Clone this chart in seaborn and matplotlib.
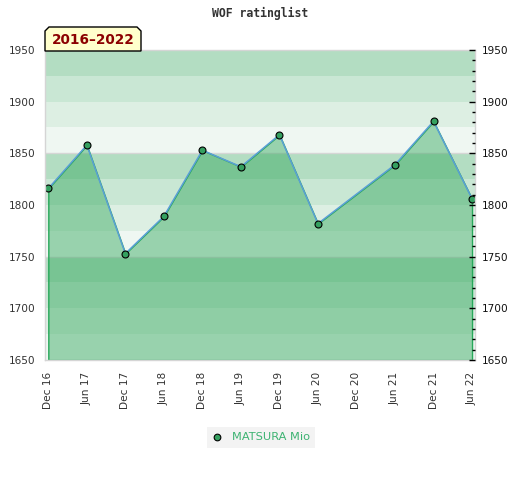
import matplotlib
matplotlib.use('Agg')
import matplotlib.pyplot as plt
import seaborn as sns
from matplotlib.lines import Line2D
from matplotlib.patches import Polygon
from matplotlib.ticker import MultipleLocator

# Dados
periodos = ['Dec 16', 'Jun 17', 'Dec 17', 'Jun 18', 'Dec 18', 'Jun 19',
            'Dec 19', 'Jun 20', 'Dec 20', 'Jun 21', 'Dec 21', 'Jun 22']
idx_pontos = [0, 1, 2, 3, 4, 5, 6, 7, 9, 10, 11]
ratings = [1816, 1858, 1753, 1789, 1853, 1837, 1868, 1782, 1839, 1881, 1806]
jogador = 'MATSURA Mio'
rotulo_periodo = '2016–2022'
titulo = 'WOF ratinglist'

y_min, y_max = 1650, 1950
faixa_cores = ['#b3ddc2', '#c9e7d4', '#ddefe3', '#eff7f2']

sns.set_style('white')
plt.rcParams['font.family'] = ['DejaVu Sans']

fig = plt.figure(figsize=(5.2, 4.8), dpi=100)
ax = fig.add_axes([45 / 520, 1 - 360 / 480, 430 / 520, 310 / 480])

# Faixas de fundo a cada 25 pontos
for i, topo in enumerate(range(y_max, y_min, -25)):
    ax.axhspan(topo - 25, topo, color=faixa_cores[i % 4], lw=0, zorder=0)
for nivel in range(y_min + 100, y_max, 100):
    ax.axhline(nivel, color='#d6d6d6', lw=1, zorder=0.5)

# Area e linha
ax.fill_between(idx_pontos, ratings, y_min, facecolor=(0.216, 0.663, 0.376, 0.47),
                edgecolor='#27a85a', lw=1, zorder=1)
sns.lineplot(x=idx_pontos, y=ratings, ax=ax, color='#5b9fd6', lw=1.1, marker='o',
             markersize=5, markerfacecolor='#35a060', markeredgecolor='black',
             markeredgewidth=0.8, zorder=3)

ax.set_xlim(-0.086, 11.077)
ax.set_ylim(y_min, y_max)
ax.set_xticks(range(len(periodos)))
ax.set_xticklabels(periodos, rotation=90, fontsize=7.6, color='#333333')
ax.set_yticks(range(y_min, y_max + 1, 50))
ax.tick_params(axis='x', length=0, pad=8.5)
ax.tick_params(axis='y', length=0, pad=7, labelsize=7.6, labelcolor='#333333')
ax.set_xlabel('')
ax.set_ylabel('')
for sp in ax.spines.values():
    sp.set_color('#d5d5d5')
    sp.set_linewidth(1)
    sp.set_zorder(4)

# Eixo direito
ax2 = ax.twinx()
ax2.set_ylim(y_min, y_max)
ax2.yaxis.set_major_locator(MultipleLocator(50))
ax2.yaxis.set_minor_locator(MultipleLocator(10))
ax2.tick_params(axis='y', which='major', direction='in', length=4, width=1,
                color='black', pad=5, labelsize=7.6, labelcolor='#111111')
ax2.tick_params(axis='y', which='minor', direction='in', length=2.2, width=1, color='black')
for sp in ax2.spines.values():
    sp.set_visible(False)

# Titulo
fig.text(0.5, 1 - 13 / 480, titulo, ha='center', va='center', fontsize=8.3,
         family='DejaVu Sans Mono', weight='bold', color='#333333')

# Caixa do periodo
x0, x1 = 45 / 520, 141 / 520
yb, yt = 1 - 51 / 480, 1 - 27 / 480
cx, cy = 4 / 520, 4 / 480
caixa = Polygon([(x0, yb), (x0, yt - cy), (x0 + cx, yt), (x1 - cx, yt),
                 (x1, yt - cy), (x1, yb)], closed=True, transform=fig.transFigure,
                facecolor='#ffffcc', edgecolor='black', lw=1, zorder=5)
fig.patches.append(caixa)
fig.text((x0 + x1) / 2, 1 - 39.5 / 480, rotulo_periodo, ha='center', va='center',
         fontsize=9.8, weight='bold', color='#8b0000', zorder=6)

# Legenda
marcador = Line2D([], [], marker='o', ls='', markersize=4.8, markerfacecolor='#35a060',
                  markeredgecolor='black', markeredgewidth=0.8)
fig.legend(handles=[marcador], labels=[jogador], loc='center',
           bbox_to_anchor=(261 / 520, 1 - 437.5 / 480), frameon=True,
           facecolor='#f0f0f0', edgecolor='none', fancybox=False, fontsize=8.2,
           labelcolor='#3cb371', handlelength=0.8, handletextpad=0.9, borderpad=0.45,
           borderaxespad=0)

fig.savefig('out.png', dpi=100)
